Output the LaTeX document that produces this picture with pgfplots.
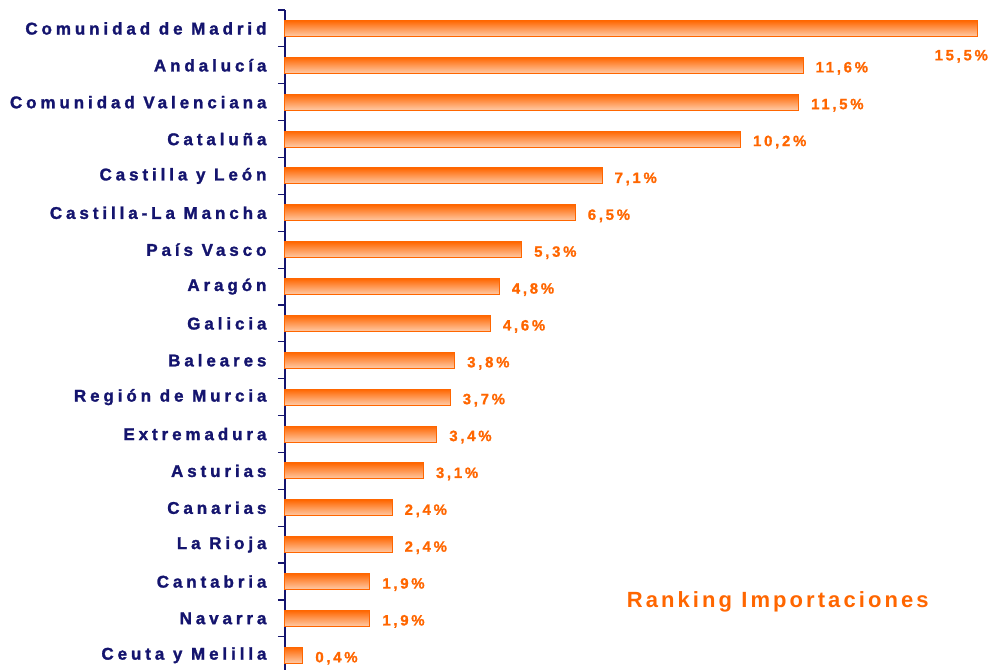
\documentclass[border=0pt]{standalone}
\usepackage{fontspec}
\setmainfont{Liberation Sans}
\newfontfamily\catfont{Liberation Sans}[LetterSpace=23, FakeBold=1.5]
\newfontfamily\valfont{Liberation Sans}[LetterSpace=18, FakeBold=1]
\newfontfamily\titfont{Liberation Sans}[LetterSpace=14]
\usepackage{pgfplots}
\pgfplotsset{compat=1.18}
\definecolor{navy}{HTML}{14146E}
\definecolor{orng}{HTML}{FF6600}
\definecolor{peach}{HTML}{FFCBA8}
\pgfplotsset{
  mybar/.style={xbar, bar shift=0pt, bar width=16pt, draw=orng, line width=1pt,
    top color=orng, bottom color=peach,
    nodes near coords={\pgfplotspointmeta}, point meta=explicit symbolic,
    every node near coord/.style={anchor=west, inner sep=0pt, xshift=12pt, yshift=-3pt,
      text=orng, font=\valfont\bfseries\fontsize{15}{18}\selectfont}},
}
\begin{document}
\begin{tikzpicture}
\path[use as bounding box] (-285pt,0pt) rectangle (707pt,670pt);
\begin{axis}[
  at={(0pt,0pt)}, anchor=south west,
  scale only axis, width=707pt, height=660pt,
  xmin=0, xmax=15.83,
  ymin=-0.5, ymax=17.4, y dir=reverse,
  axis x line=none, axis y line*=left,
  y axis line style={navy, line width=1.2pt, -},
  ytick={0,...,17},
  yticklabels={Comunidad de Madrid,Andaluc\'ia,Comunidad Valenciana,Catalu\~na,Castilla y Le\'on,Castilla-La Mancha,Pa\'is Vasco,Arag\'on,Galicia,Baleares,Regi\'on de Murcia,Extremadura,Asturias,Canarias,La Rioja,Cantabria,Navarra,Ceuta y Melilla},
  yticklabel style={font=\catfont\bfseries\fontsize{17}{20}\selectfont, text=navy, xshift=-15pt},
  major tick length=0pt,
  minor ytick={-0.5,0.5,...,16.5},
  minor tick length=7pt,
  tick align=outside,
  minor tick style={navy, line width=1.2pt},
  clip=false,
]
\addplot[mybar, every node near coord/.style={anchor=north, inner sep=0pt, xshift=-16pt, yshift=-21pt, text=orng, font=\valfont\bfseries\fontsize{15}{18}\selectfont}]
  coordinates {(15.5,0) [15,5\%]};
\addplot[mybar] coordinates {(11.6,1) [11,6\%]};
\addplot[mybar] coordinates {(11.5,2) [11,5\%]};
\addplot[mybar] coordinates {(10.2,3) [10,2\%]};
\addplot[mybar] coordinates {(7.1,4) [7,1\%]};
\addplot[mybar] coordinates {(6.5,5) [6,5\%]};
\addplot[mybar] coordinates {(5.3,6) [5,3\%]};
\addplot[mybar] coordinates {(4.8,7) [4,8\%]};
\addplot[mybar] coordinates {(4.6,8) [4,6\%]};
\addplot[mybar] coordinates {(3.8,9) [3,8\%]};
\addplot[mybar] coordinates {(3.7,10) [3,7\%]};
\addplot[mybar] coordinates {(3.4,11) [3,4\%]};
\addplot[mybar] coordinates {(3.1,12) [3,1\%]};
\addplot[mybar] coordinates {(2.4,13) [2,4\%]};
\addplot[mybar] coordinates {(2.4,14) [2,4\%]};
\addplot[mybar] coordinates {(1.9,15) [1,9\%]};
\addplot[mybar] coordinates {(1.9,16) [1,9\%]};
\addplot[mybar] coordinates {(0.4,17) [0,4\%]};
\node[anchor=west, inner sep=0pt, text=orng, font=\titfont\bfseries\fontsize{22}{24}\selectfont] at (axis cs:7.65,15.55) {Ranking Importaciones};
\end{axis}
\end{tikzpicture}
\end{document}
